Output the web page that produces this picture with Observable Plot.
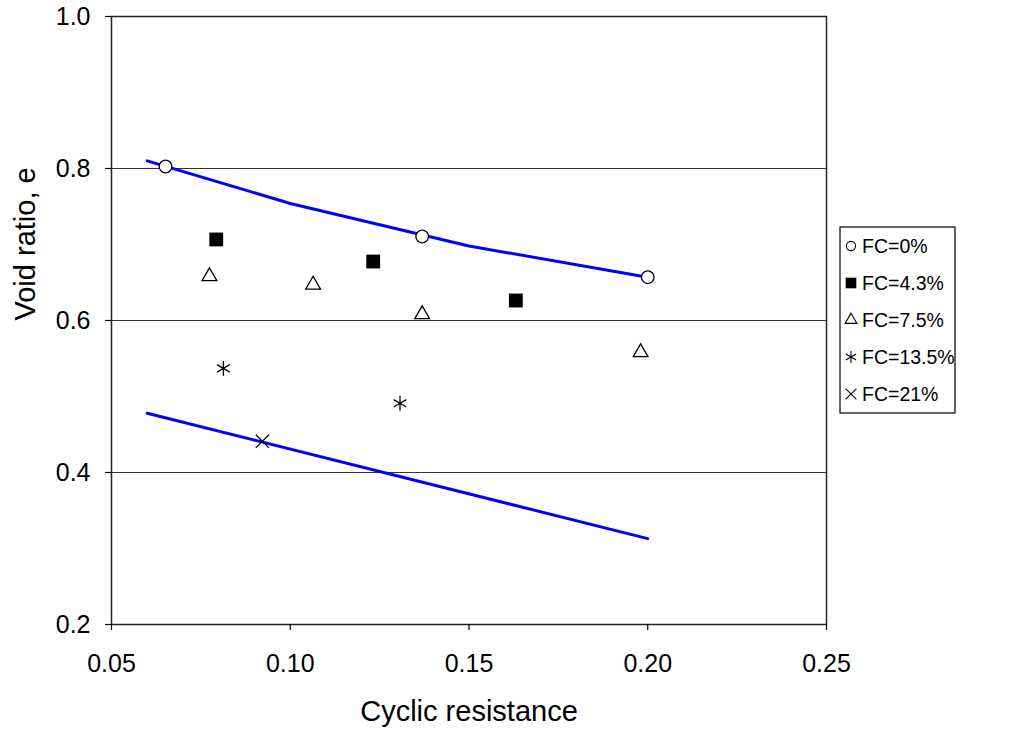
<!DOCTYPE html>
<html><head><meta charset="utf-8">
<script src="https://cdn.jsdelivr.net/npm/d3@7"></script>
<script src="https://cdn.jsdelivr.net/npm/@observablehq/plot@0.6"></script>
<style>body{margin:0;background:#fff} #chart{width:1036px;height:729px}</style>
</head><body><div id="chart"></div>
<script>
const seriesNames = ["FC=0%", "FC=4.3%", "FC=7.5%", "FC=13.5%", "FC=21%"];
const fc0X = [0.0651, 0.1369, 0.2000];
const fc0Y = [0.8026, 0.7105, 0.657];
const fc43X = [0.0793, 0.1232, 0.1631];
const fc43Y = [0.7066, 0.6776, 0.6263];
const fc75X = [0.0774, 0.1064, 0.1369, 0.1980];
const fc75Y = [0.658, 0.647, 0.608, 0.558];
const fc135X = [0.0813, 0.1307];
const fc135Y = [0.537, 0.491];
const fc21X = [0.0922];
const fc21Y = [0.441];
const upperX = [0.06, 0.10, 0.15, 0.20];
const upperY = [0.81, 0.754, 0.698, 0.657];
const lowerX = [0.06, 0.20];
const lowerY = [0.478, 0.313];
const xTicks = [0.05, 0.10, 0.15, 0.20, 0.25];
const yTicks = [0.2, 0.4, 0.6, 0.8, 1.0];
const gridValues = [0.4, 0.6, 0.8];

const zip = (xs, ys) => xs.map((x, i) => ({x, y: ys[i]}));
const font = "'Liberation Sans', Arial, sans-serif";

const styles = [
  {symbol: "circle", r: 6.3, fill: "white", stroke: "black"},
  {symbol: "square", r: 7.8, fill: "black", stroke: "none"},
  {symbol: "triangle", r: 5.5, fill: "white", stroke: "black"},
  {symbol: "asterisk", r: 7, fill: "none", stroke: "black"},
  {symbol: "times", r: 6, fill: "none", stroke: "black"}
];
const seriesData = [zip(fc0X, fc0Y), zip(fc43X, fc43Y), zip(fc75X, fc75Y), zip(fc135X, fc135Y), zip(fc21X, fc21Y)];

const dotMarks = seriesData.map((d, i) => Plot.dot(d, {
  x: "x", y: "y", symbol: () => styles[i].symbol, r: styles[i].r,
  fill: styles[i].fill, stroke: styles[i].stroke, strokeWidth: 1.3
}));

const plot = Plot.plot({
  width: 1036, height: 729,
  marginLeft: 111, marginRight: 210, marginTop: 16, marginBottom: 105,
  style: {fontFamily: font, fontSize: "25px", background: "white", color: "black"},
  x: {domain: [0.05, 0.25]},
  y: {domain: [0.2, 1.0]},
  symbol: {type: "identity"},
  marks: [
    Plot.ruleY(gridValues, {stroke: "#333", strokeWidth: 1.2}),
    Plot.frame({stroke: "#222", strokeWidth: 1.5}),
    Plot.axisX(xTicks, {tickFormat: d3.format(".2f"), tickSize: 6, tickPadding: 24, fontSize: 25, label: null, strokeWidth: 1.2}),
    Plot.axisY(yTicks, {tickFormat: d3.format(".1f"), tickSize: 6, tickPadding: 15, fontSize: 25, label: null, strokeWidth: 1.2}),
    Plot.text(["Cyclic resistance"], {frameAnchor: "bottom", dy: 87, lineAnchor: "middle", fontSize: 29, text: d => d}),
    Plot.text(["Void ratio, e"], {frameAnchor: "left", dx: -86, lineAnchor: "middle", rotate: -90, fontSize: 29, text: d => d}),
    Plot.line(zip(upperX, upperY), {x: "x", y: "y", stroke: "#0000ff", strokeWidth: 3}),
    Plot.line(zip(lowerX, lowerY), {x: "x", y: "y", stroke: "#0000ff", strokeWidth: 3}),
    ...dotMarks
  ]
});
document.getElementById("chart").appendChild(plot);

// Legend
const svg = d3.select(plot);
const lg = svg.append("g").attr("transform", "translate(840,227)");
lg.append("rect").attr("width", 115).attr("height", 186).attr("fill", "white").attr("stroke", "black").attr("stroke-width", 1.2);
const symMap = {circle: d3.symbolCircle, square: d3.symbolSquare, triangle: d3.symbolTriangle, asterisk: d3.symbolAsterisk, times: d3.symbolTimes};
const legendR = [4.6, 6, 4.4, 5.6, 5];
seriesNames.forEach((name, i) => {
  const yy = 19 + i * 37;
  const s = styles[i];
  lg.append("path")
    .attr("d", d3.symbol(symMap[s.symbol], Math.PI * legendR[i] * legendR[i])())
    .attr("transform", `translate(11,${yy})`)
    .attr("fill", s.fill).attr("stroke", s.stroke).attr("stroke-width", 1.1);
  lg.append("text").attr("x", 22).attr("y", yy).attr("dy", "0.35em")
    .attr("text-anchor", "start")
    .attr("font-family", font).attr("font-size", 19.5).attr("fill", "black").text(name);
});
</script></body></html>
